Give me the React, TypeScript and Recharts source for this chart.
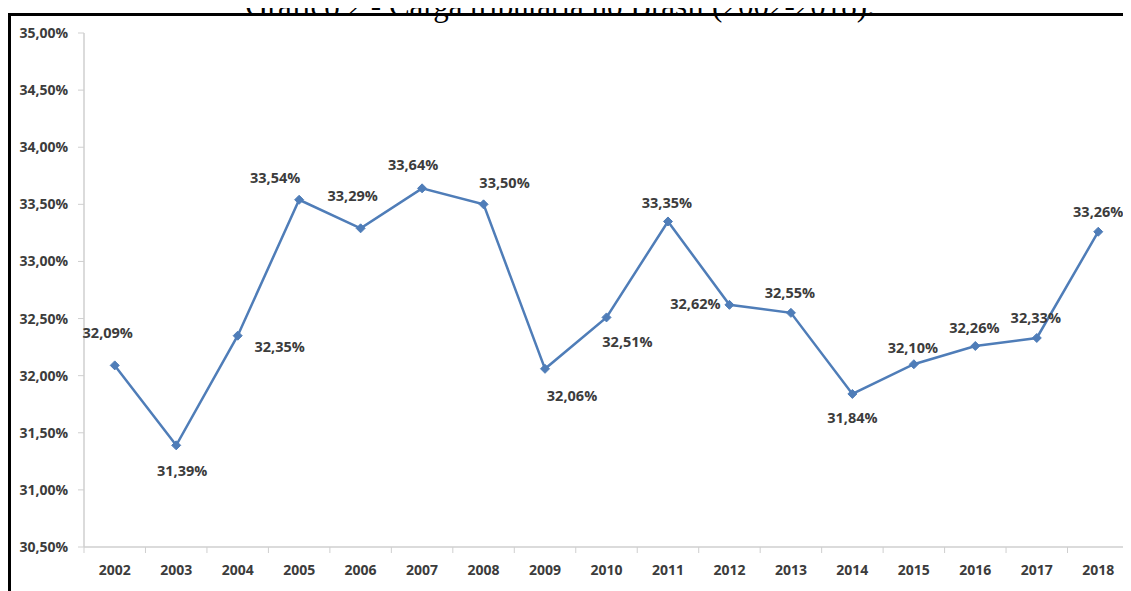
import React from 'react';
import { LineChart, Line, XAxis, YAxis } from 'recharts';

const categories = ['2002', '2003', '2004', '2005', '2006', '2007', '2008', '2009', '2010', '2011', '2012', '2013', '2014', '2015', '2016', '2017', '2018'];
const cargaTributaria = [32.09, 31.39, 32.35, 33.54, 33.29, 33.64, 33.5, 32.06, 32.51, 33.35, 32.62, 32.55, 31.84, 32.1, 32.26, 32.33, 33.26];
const yTicks = [30.5, 31, 31.5, 32, 32.5, 33, 33.5, 34, 34.5, 35];
const titleText = 'Gráfico 2 - Carga tributária no Brasil (2002-2018).';

// label offsets (style only): [dx, dy] from each point to its label centre
const labelOffsets: [number, number][] = [
  [-7, -33], [6, 25], [42, 11], [-24, -22], [-8, -33], [-9, -24], [21, -22], [27, 27],
  [21, 24], [-1, -19], [-34, -1], [-1, -20], [0, 24], [-1, -17], [-1, -18], [-1, -20], [0, -20],
];

const data = categories.map((year, i) => ({ i, year, value: cargaTributaria[i] }));
const xTicks: number[] = [];
for (let k = -1; k < categories.length; k++) {
  xTicks.push(k + 0.5);
  if (k + 1 < categories.length) xTicks.push(k + 1);
}
xTicks.sort((a, b) => a - b);

const FONT = '"Open Sans", "DejaVu Sans", sans-serif';
const TEXT_COLOR = '#3c3c3c';
const AXIS_COLOR = '#cfcfcf';
const LINE_COLOR = '#4f7db8';
const fmt = (v: number) => v.toFixed(2).replace('.', ',') + '%';

const X_MARGIN = 22;

const XTick = (props: any) => {
  const { x, y, payload } = props;
  const v = payload.value as number;
  if (Number.isInteger(v)) {
    return (
      <text x={x} y={y} textAnchor="middle" dominantBaseline="central" fill={TEXT_COLOR}
        style={{ fontFamily: FONT, fontWeight: 700, fontSize: 14 }}>
        {categories[v]}
      </text>
    );
  }
  return <line x1={x} x2={x} y1={y - X_MARGIN} y2={y - X_MARGIN + 6} stroke={AXIS_COLOR} strokeWidth={1} />;
};

const Diamond = (props: any) => {
  const { cx, cy } = props;
  if (cx == null || cy == null) return null;
  const r = 4.5;
  return <polygon points={`${cx},${cy - r} ${cx + r},${cy} ${cx},${cy + r} ${cx - r},${cy}`} fill={LINE_COLOR} stroke={LINE_COLOR} strokeWidth={1} />;
};

const PointLabel = (props: any) => {
  const { x, y, index, value } = props;
  const [dx, dy] = labelOffsets[index] || [0, -18];
  return (
    <text x={x + dx} y={y + dy} textAnchor="middle" dominantBaseline="central" fill={TEXT_COLOR}
      style={{ fontFamily: FONT, fontWeight: 700, fontSize: 14.5 }}>
      {fmt(value)}
    </text>
  );
};

export default function App() {
  return (
    <div style={{ position: 'relative', width: 1131, height: 591, margin: '-8px 0 0 -8px', overflow: 'hidden', background: '#fff' }}>
      <div style={{ position: 'absolute', left: 0, width: 1120, top: -10, textAlign: 'center', fontFamily: '"Liberation Serif", "Times New Roman", serif', fontSize: 31, lineHeight: '31px', color: '#000', whiteSpace: 'nowrap' }}>
        {titleText}
      </div>
      <div style={{ position: 'absolute', left: 8, top: 13, width: 1140, height: 600, borderTop: '3px solid #000', borderLeft: '3px solid #000' }} />
      <div style={{ position: 'absolute', left: 0, top: 0 }}>
        <LineChart width={1131} height={591} data={data} margin={{ top: 33, right: 2, bottom: 14, left: 0 }}>
          <XAxis dataKey="i" type="number" domain={[-0.5, categories.length - 0.5]} ticks={xTicks} interval={0}
            tick={<XTick />} tickLine={false} tickSize={0} tickMargin={X_MARGIN} height={30}
            axisLine={{ stroke: AXIS_COLOR, strokeWidth: 1.5 }} allowDataOverflow />
          <YAxis type="number" domain={[30.5, 35]} ticks={yTicks} interval={0} width={84} tickFormatter={fmt}
            tickSize={6} tickMargin={10} axisLine={{ stroke: AXIS_COLOR, strokeWidth: 1.5 }} tickLine={{ stroke: AXIS_COLOR }}
            tick={{ fill: TEXT_COLOR, fontFamily: FONT, fontWeight: 700, fontSize: 14 }} allowDataOverflow />
          <Line type="linear" dataKey="value" stroke={LINE_COLOR} strokeWidth={2.5} dot={<Diamond />} activeDot={false}
            label={<PointLabel />} isAnimationActive={false} />
        </LineChart>
      </div>
    </div>
  );
}
